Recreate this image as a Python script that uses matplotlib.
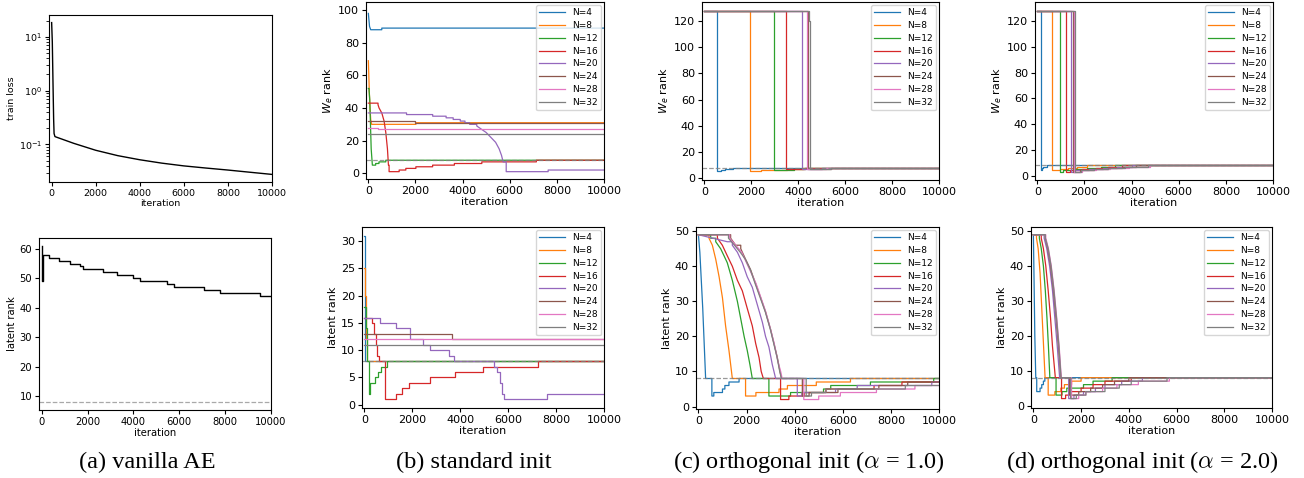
import matplotlib
matplotlib.use("Agg")
import matplotlib.pyplot as plt

W, H = 1304, 478
N_LABELS = ["N=4", "N=8", "N=12", "N=16", "N=20", "N=24", "N=28", "N=32"]
ITER_END = 10000
TARGET_RANK = 8

# (a) vanilla AE
vanilla_loss_it = [0, 30, 60, 90, 110, 150, 300, 1000, 2000, 3000, 4000, 5000,
                   6000, 7000, 8000, 9000, 10000]
vanilla_loss = [18.3, 8, 1.5, 0.3, 0.16, 0.14, 0.133, 0.105, 0.078, 0.062, 0.052,
                0.045, 0.040, 0.0365, 0.0335, 0.0305, 0.0278]
vanilla_rank_it = [0, 15, 40, 335, 770, 1240, 1670, 1820, 2690, 3300, 3970, 4270,
                   5460, 5750, 7090, 7760, 9500]
vanilla_rank = [61, 49, 58, 57, 56, 55, 54, 53, 52, 51, 50, 49, 48, 47, 46, 45, 44]

# rank curves: (iteration, rank) breakpoints
std_we = [
    [(0, 98), (50, 90), (100, 88), (570, 89)],
    [(0, 69), (20, 60), (40, 50), (70, 40), (100, 33), (140, 30), (2017, 31)],
    [(0, 52), (30, 51), (60, 45), (90, 30), (120, 15), (170, 5), (310, 6), (450, 7), (740, 8)],
    [(0, 43), (410, 42), (455, 40), (570, 37), (668, 32), (740, 25), (810, 15), (852, 5),
     (880, 1), (1307, 2), (1590, 3), (2017, 4), (2727, 5), (3650, 6), (4815, 7), (7130, 8)],
    [(0, 37), (1620, 36), (2730, 35), (3300, 34), (3600, 33), (3900, 32), (4100, 31),
     (4300, 30), (4600, 29), (4800, 27), (5000, 25), (5200, 22), (5400, 19), (5550, 15),
     (5650, 11), (5720, 7), (5850, 1), (7630, 2)],
    [(0, 32), (2000, 31)],
    [(0, 28), (420, 27)],
    [(0, 24)],
]
std_lat = [
    [(0, 31), (30, 8)],
    [(0, 25), (30, 20), (60, 12), (90, 8)],
    [(0, 18), (60, 14), (100, 8), (180, 2), (250, 4), (460, 5), (570, 6), (700, 7), (940, 8)],
    [(0, 16), (330, 15), (420, 13), (470, 11), (540, 9), (593, 8), (880, 1), (1310, 2),
     (1560, 3), (1860, 4), (2730, 5), (3770, 6), (4940, 7), (7240, 8)],
    [(0, 16), (660, 15), (1310, 14), (1900, 12), (2460, 11), (2730, 10), (3530, 9),
     (3740, 8), (5420, 7), (5550, 6), (5650, 4), (5750, 2), (5830, 1), (7630, 2)],
    [(0, 13), (3650, 12)],
    [(0, 12)],
    [(0, 11)],
]
orth1_we = [
    [(0, 128), (540, 5), (700, 6), (900, 7), (1200, 8)],
    [(0, 128), (1960, 5), (2400, 6), (3530, 7), (4200, 8)],
    [(0, 128), (2980, 6), (3800, 7), (4300, 8)],
    [(0, 128), (3500, 7), (4300, 8)],
    [(0, 128), (4150, 7), (5000, 8)],
    [(0, 128), (4420, 7), (5400, 8)],
    [(0, 128), (4380, 7), (5200, 8)],
    [(0, 128), (4460, 120), (4520, 7), (5400, 8)],
]
orth1_lat = [
    [(0, 49), (60, 44), (120, 36), (180, 28), (240, 18), (300, 8), (560, 3), (640, 4),
     (1000, 5), (1100, 6), (1270, 7), (1690, 8)],
    [(0, 49), (440, 48), (580, 46), (720, 42), (860, 37), (1000, 31), (1130, 23),
     (1270, 16), (1410, 8), (1960, 3), (2390, 4), (3350, 5), (3700, 6), (4900, 7), (6320, 8)],
    [(0, 49), (510, 48), (720, 47), (925, 45), (1064, 43), (1200, 41), (1410, 36),
     (1620, 30), (1760, 25), (1900, 20), (2030, 16), (2140, 12), (2240, 8), (2930, 3),
     (3830, 4), (5200, 5), (5500, 6), (7150, 7), (9780, 8)],
    [(0, 49), (790, 48), (995, 46), (1200, 43), (1410, 40), (1620, 36), (1825, 33),
     (2030, 28), (2240, 23), (2380, 18), (2520, 14), (2610, 10), (2700, 8), (3415, 2),
     (3760, 3), (4400, 4), (5300, 5), (7300, 6), (8460, 7)],
    [(0, 49), (1200, 47), (1410, 46), (1620, 44), (1825, 41), (2030, 37), (2240, 34),
     (2450, 29), (2660, 24), (2790, 20), (2930, 17), (3070, 12), (3210, 8), (4110, 3),
     (4300, 4), (5700, 5), (6600, 6), (9700, 7)],
    [(0, 49), (1340, 48), (1550, 46), (1760, 45), (1960, 42), (2170, 39), (2380, 35),
     (2590, 31), (2790, 27), (3000, 22), (3140, 18), (3280, 14), (3390, 10), (3460, 8),
     (4320, 3), (4600, 4), (5800, 5), (7500, 6), (8700, 7)],
    [(0, 49), (1300, 48), (1550, 46), (1800, 44), (2000, 41), (2200, 38), (2400, 35),
     (2600, 31), (2800, 27), (3000, 22), (3150, 18), (3300, 13), (3420, 10), (3480, 8),
     (4380, 2), (5000, 3), (5900, 4), (7400, 5), (9000, 6)],
    [(0, 49), (1250, 48), (1500, 46), (1740, 44), (1950, 42), (2160, 39), (2360, 35),
     (2570, 31), (2780, 27), (2990, 22), (3130, 18), (3270, 14), (3380, 10), (3450, 8),
     (4480, 3), (4700, 4), (5300, 5), (8600, 6)],
]
orth2_we = [
    [(0, 128), (155, 4), (200, 6), (260, 7), (400, 8)],
    [(0, 128), (610, 4), (960, 5), (1300, 6), (1700, 7), (2100, 8)],
    [(0, 128), (960, 3), (1100, 4), (1500, 5), (2100, 6), (2700, 7), (3300, 8)],
    [(0, 128), (1200, 3), (1400, 4), (1900, 5), (2500, 6), (3000, 7), (3600, 8)],
    [(0, 128), (1410, 3), (1600, 4), (2200, 5), (2800, 6), (3400, 7), (4000, 8)],
    [(0, 128), (1525, 3), (1800, 4), (2400, 5), (3000, 6), (3600, 7), (4200, 8)],
    [(0, 128), (1570, 3), (1900, 4), (2500, 5), (3100, 6), (3900, 7), (4800, 8)],
    [(0, 128), (1580, 3), (1850, 4), (2400, 5), (3000, 6), (3700, 7), (4700, 8)],
]
orth2_lat = [
    [(0, 49), (30, 35), (60, 20), (100, 8), (140, 4), (280, 5), (350, 6), (420, 7), (480, 8)],
    [(0, 49), (130, 48), (200, 45), (280, 38), (350, 28), (420, 18), (490, 8), (620, 3),
     (900, 4), (1150, 5), (1300, 6), (1600, 7), (2000, 8)],
    [(0, 49), (250, 48), (330, 45), (420, 40), (500, 33), (570, 25), (630, 17), (690, 8),
     (950, 3), (1200, 4), (1400, 5), (2100, 6), (2500, 7), (3300, 8)],
    [(0, 49), (330, 48), (420, 45), (520, 40), (620, 33), (720, 25), (800, 17), (920, 8),
     (1180, 2), (1350, 3), (1500, 4), (2000, 5), (2500, 6), (3000, 7), (4100, 8)],
    [(0, 49), (450, 48), (560, 45), (680, 40), (800, 33), (900, 25), (1000, 17), (1100, 8),
     (1480, 2), (1700, 3), (2100, 4), (2600, 5), (3000, 6), (3700, 7), (4570, 8)],
    [(0, 49), (500, 48), (600, 45), (720, 40), (840, 33), (950, 25), (1050, 17), (1150, 8),
     (1520, 3), (1900, 4), (2400, 5), (2900, 6), (3400, 7), (4000, 8)],
    [(0, 49), (520, 48), (630, 45), (750, 40), (870, 33), (980, 25), (1080, 17), (1170, 8),
     (1600, 2), (1900, 3), (2200, 4), (2900, 5), (3500, 6), (4400, 7), (5700, 8)],
    [(0, 49), (500, 48), (620, 45), (740, 40), (860, 33), (970, 25), (1070, 17), (1160, 8),
     (1560, 2), (1800, 3), (2200, 4), (3000, 5), (3600, 6), (4100, 7), (5600, 8)],
]

CAPTIONS = ["(a) vanilla AE", "(b) standard init",
            r"(c) orthogonal init ($\alpha$ = 1.0)", r"(d) orthogonal init ($\alpha$ = 2.0)"]
CAPTION_X = [147, 474, 809, 1142]


def px_box(l, t, r, b):
    return [l / W, 1 - b / H, (r - l) / W, (b - t) / H]


def rank_path(pts, smooth_fall):
    # steps everywhere; the initial fall (drops of 2+ before reaching target) drawn straight
    xs, ys = [pts[0][0]], [pts[0][1]]
    falling = True
    for (x0, y0), (x1, y1) in zip(pts[:-1], pts[1:]):
        if smooth_fall and falling and y0 - y1 >= 2:
            xs.append(x1)
            ys.append(y1)
        else:
            xs += [x1, x1]
            ys += [y0, y1]
        if y1 <= TARGET_RANK:
            falling = False
    xs.append(ITER_END)
    ys.append(pts[-1][1])
    return xs, ys


def draw_ranks(ax, curves, ylabel, ylim, fs, smooth_fall=False):
    for pts, lab in zip(curves, N_LABELS):
        xs, ys = rank_path(pts, smooth_fall)
        ax.plot(xs, ys, lw=0.9, label=lab)
    ax.axhline(TARGET_RANK, color="gray", ls="--", lw=0.9, alpha=0.8)
    ax.set_xlim(-100, ITER_END)
    ax.set_ylim(*ylim)
    ax.set_xlabel("iteration", fontsize=fs, labelpad=1)
    ax.set_ylabel(ylabel, fontsize=fs, labelpad=2)
    ax.tick_params(labelsize=fs, length=3, pad=2)
    ax.legend(loc="upper right", fontsize=6.5, handlelength=2.8, labelspacing=0.42,
              borderpad=0.4, borderaxespad=0.3)


fig = plt.figure(figsize=(W / 100, H / 100), dpi=100)

# (a) top: train loss
ax = fig.add_axes(px_box(49, 15, 272, 182))
ax.plot(vanilla_loss_it, vanilla_loss, color="black", lw=1.0)
ax.set_yscale("log")
ax.set_xlim(-120, ITER_END)
ax.set_xlabel("iteration", fontsize=6.8, labelpad=1)
ax.set_ylabel("train loss", fontsize=6.8, labelpad=2)
ax.tick_params(labelsize=6.8, length=3, pad=2)

# (a) bottom: latent rank
ax = fig.add_axes(px_box(39, 238, 271, 410))
ax.plot(vanilla_rank_it + [ITER_END], vanilla_rank + [vanilla_rank[-1]],
        drawstyle="steps-post", color="black", lw=1.0)
ax.axhline(TARGET_RANK, color="darkgray", ls="--", lw=0.9)
ax.set_xlim(-120, ITER_END)
ax.set_xlabel("iteration", fontsize=7.2, labelpad=1)
ax.set_ylabel("latent rank", fontsize=7.2, labelpad=2)
ax.tick_params(labelsize=7.2, length=3, pad=2)

# (b) standard init
draw_ranks(fig.add_axes(px_box(366, 2, 604, 179)), std_we, r"$W_e$ rank", (-3.5, 105), 8,
           smooth_fall=True)
draw_ranks(fig.add_axes(px_box(362, 227, 604, 408)), std_lat, "latent rank", (-0.6, 32.6), 8)

# (c) orthogonal init, alpha = 1.0
draw_ranks(fig.add_axes(px_box(702, 2, 939, 180)), orth1_we, r"$W_e$ rank", (-1.5, 134.5), 8)
draw_ranks(fig.add_axes(px_box(696, 227, 939, 409)), orth1_lat, "latent rank", (-0.7, 51.2), 8,
           smooth_fall=True)

# (d) orthogonal init, alpha = 2.0
draw_ranks(fig.add_axes(px_box(1035, 2, 1273, 180)), orth2_we, r"$W_e$ rank", (-3.4, 134.7), 8)
draw_ranks(fig.add_axes(px_box(1031, 227, 1272, 408)), orth2_lat, "latent rank", (-0.7, 51.2), 8,
           smooth_fall=True)

for cap, cx in zip(CAPTIONS, CAPTION_X):
    fig.text(cx / W, 1 - 462 / H, cap, ha="center", va="center", fontsize=17.5,
             family="Liberation Serif", math_fontfamily="cm")

fig.savefig("out.png", dpi=100)
